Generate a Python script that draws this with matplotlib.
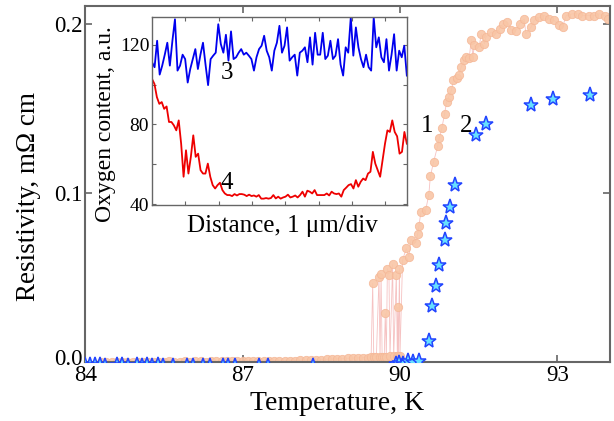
import numpy as np
import matplotlib.pyplot as plt
import matplotlib.transforms as mtransforms

plt.rcParams['font.family'] = ['Liberation Serif', 'DejaVu Serif']

# curve 1 (circles): temperature in K, resistivity in mOhm cm
T1 = [84.3, 84.4, 84.5, 84.6, 84.7, 84.8, 84.9, 85.0, 85.1, 85.2, 85.3, 85.4,
      85.5, 85.6, 85.7, 85.8, 85.9, 86.0, 86.1, 86.2, 86.3, 86.4, 86.5, 86.6,
      86.7, 86.8, 86.9, 87.0, 87.1, 87.2, 87.3, 87.4, 87.5, 87.6, 87.7, 87.8,
      87.9, 88.0, 88.1, 88.2, 88.3, 88.4, 88.5, 88.6, 88.7, 88.8, 88.9, 89.0,
      89.1, 89.2, 89.3, 89.4,
      89.45, 89.48, 89.50, 89.55, 89.60, 89.62, 89.64, 89.66, 89.70, 89.72,
      89.74, 89.76, 89.79, 89.81, 89.86, 89.88, 89.93, 89.95, 89.96, 89.97,
      89.99, 90.00,
      90.05, 90.12, 90.17, 90.21, 90.30, 90.34, 90.36, 90.40, 90.49, 90.55,
      90.58, 90.64, 90.72, 90.75, 90.80, 90.85, 90.89, 90.93, 90.98, 91.02,
      91.08, 91.12, 91.17, 91.23, 91.26, 91.32, 91.36, 91.39, 91.42, 91.51,
      91.55, 91.61, 91.64, 91.74, 91.83, 91.90, 91.96, 92.05, 92.12, 92.21,
      92.28, 92.37, 92.40, 92.50, 92.56, 92.66, 92.75, 92.85, 92.94, 93.04,
      93.10, 93.17, 93.29, 93.39, 93.48, 93.61, 93.70, 93.80, 93.91, 93.96]
R1 = [0.0002, 0.0003, 0.0002, 0.0003, 0.0002, 0.0003, 0.0003, 0.0002, 0.0003, 0.0003, 0.0002, 0.0003,
      0.0003, 0.0004, 0.0003, 0.0003, 0.0004, 0.0003, 0.0004, 0.0004, 0.0003, 0.0004, 0.0004, 0.0005,
      0.0004, 0.0005, 0.0004, 0.0005, 0.0005, 0.0006, 0.0005, 0.0006, 0.0006, 0.0007, 0.0007, 0.0008,
      0.0008, 0.0009, 0.0010, 0.0011, 0.0012, 0.0013, 0.0014, 0.0016, 0.0017, 0.0019, 0.0020, 0.0022,
      0.0023, 0.0025, 0.0026, 0.0027,
      0.0028, 0.0466, 0.0029, 0.0030, 0.0505, 0.0030, 0.0519, 0.0031, 0.0031, 0.0288,
      0.0032, 0.0554, 0.0515, 0.0033, 0.0578, 0.0033, 0.0515, 0.0034, 0.0324, 0.0034,
      0.0554, 0.0035,
      0.0604, 0.0673, 0.0623, 0.0726, 0.0706, 0.0761, 0.0805, 0.0889, 0.0899, 0.0992,
      0.1100, 0.1185, 0.1280, 0.1330, 0.1387, 0.1470, 0.1540, 0.1570, 0.1610, 0.1670,
      0.1680, 0.1700, 0.1750, 0.1790, 0.1810, 0.1800, 0.1910, 0.1810, 0.1876, 0.1866,
      0.1945, 0.1886, 0.1925, 0.1955, 0.1945, 0.1974, 0.2004, 0.2014, 0.1968, 0.1964,
      0.2004, 0.2033, 0.1945, 0.1984, 0.2024, 0.2043, 0.2053, 0.2033, 0.2024, 0.1994,
      0.1984, 0.2053, 0.2063, 0.2063, 0.2053, 0.2053, 0.2053, 0.2063, 0.2053, 0.2033]

# curve 2 (stars)
T2 = [84.00, 84.09, 84.18, 84.28, 84.37, 84.60, 84.70, 84.81, 84.98, 85.08,
      85.17, 85.27, 85.38, 85.48, 85.67, 85.93, 86.05, 86.24, 86.37, 86.62,
      86.73, 86.85, 87.32, 87.48, 88.34, 89.93, 89.99, 90.05, 90.15, 90.25,
      90.37, 90.55, 90.62, 90.69, 90.75, 90.85, 90.87, 90.95, 91.05, 91.45,
      91.64, 92.50, 92.92, 93.62]
R2 = [-0.0015, -0.0020, -0.0015, -0.0020, -0.0022, -0.0020, -0.0018, -0.0022, -0.0020, -0.0022,
      -0.0020, -0.0022, -0.0020, -0.0024, -0.0024, -0.0022, -0.0024, -0.0024, -0.0024, -0.0022,
      -0.0024, -0.0024, -0.0024, -0.0024, -0.0026, -0.0010, -0.0005, -0.0010, 0.0005, 0.0000,
      0.0008, 0.0126, 0.0331, 0.0450, 0.0574, 0.0726, 0.0821, 0.0919, 0.1050, 0.1343,
      0.1412, 0.1520, 0.1560, 0.1580]

# inset: oxygen content profiles, a.u.
oxy3 = [111.2, 108.7, 122.0, 105.0, 109.5, 115.0, 121.0, 109.5, 122.0, 132.8,
        107.0, 109.5, 115.0, 112.8, 101.0, 107.8, 112.8, 117.8, 107.8, 115.0,
        121.0, 110.0, 99.7, 112.8, 114.5, 116.0, 130.3, 120.3, 116.0, 125.0,
        112.0, 126.7, 112.8, 113.7, 116.0, 117.8, 115.0, 116.0, 114.5, 112.8,
        107.0, 113.7, 117.8, 119.5, 124.5, 117.0, 113.7, 107.0, 117.0, 121.0,
        129.5, 116.0, 119.5, 128.7, 112.0, 113.7, 115.0, 104.5, 116.0, 117.0,
        118.7, 111.2, 123.7, 110.0, 126.0, 115.0, 115.0, 126.0, 112.8, 114.5,
        122.0, 112.8, 114.5, 122.8, 110.0, 104.5, 118.7, 116.0, 133.7, 114.5,
        128.7, 118.7, 112.8, 108.7, 115.0, 108.7, 107.0, 133.7, 118.7, 123.7,
        113.7, 111.2, 122.8, 107.0, 115.0, 125.3, 107.0, 117.0, 113.7, 119.5,
        104.5]
oxy4 = [102.8, 100.3, 93.7, 90.3, 91.2, 87.8, 89.0, 81.2, 81.2, 79.5,
        77.0, 82.0, 70.3, 53.7, 67.0, 55.3, 63.7, 74.5, 63.7, 65.3,
        57.0, 55.3, 55.3, 60.3, 53.7, 49.5, 47.8, 49.5, 50.7, 47.0,
        45.3, 44.5, 44.5, 44.0, 45.0, 44.3, 45.0, 45.0, 44.7, 44.0,
        44.7, 44.0, 44.3, 43.7, 44.5, 42.7, 42.7, 43.0, 42.7, 43.0,
        44.5, 42.8, 43.7, 42.7, 43.3, 43.7, 44.7, 43.3, 43.7, 44.3,
        43.3, 44.5, 46.2, 43.7, 46.7, 46.2, 45.3, 47.0, 44.5, 44.5,
        44.5, 44.5, 45.3, 44.3, 46.2, 45.3, 45.0, 45.3, 43.7, 47.0,
        48.2, 49.5, 50.0, 47.8, 52.0, 48.7, 51.2, 52.8, 52.0, 55.3,
        56.2, 66.2, 60.3, 57.0, 53.7, 62.0, 70.3, 77.0, 76.2, 82.0,
        76.2, 74.0, 65.3, 66.2, 76.2, 70.3]
dist_max = 7.65  # um, evenly sampled profiles

spine_col = '#666666'

fig = plt.figure(figsize=(6.14, 4.21), dpi=100)
ax = fig.add_axes([0.139, 0.140, 0.854, 0.846])

ax.plot(T1, R1, '-', color='#f2a8a8', lw=0.6, alpha=0.7, zorder=1)
ax.plot(T1, R1, 'o', ms=6, mfc='#f9c6a6', mec='#f5b898', mew=0.6, alpha=0.9, zorder=2)
ax.plot(T2, R2, '*', ms=11, mfc='#66e0ff', mec='#2244ff', mew=1.1, zorder=3)

ax.text(90.52, 0.140, '1', fontsize=18, ha='center', va='center')
ax.text(91.27, 0.140, '2', fontsize=18, ha='center', va='center')

ax.set_xlim(84, 94)
ax.set_ylim(0, 0.211)
ax.set_xticks([84, 87, 90, 93])
ax.set_yticks([0.0, 0.1, 0.2])
ax.set_yticklabels(['0.0', '0.1', '0.2'])
ax.tick_params(direction='in', top=True, right=True, labelsize=16.5, length=5,
               width=1.2, color=spine_col)
ax.tick_params(axis='x', pad=2)
ax.tick_params(axis='y', pad=2)
for s in ax.spines.values():
    s.set_color(spine_col)
    s.set_linewidth(1.5)
ax.set_xlabel('Temperature, K', fontsize=20)
ax.set_ylabel('Resistivity, mΩ cm', fontsize=19.5)
ax.xaxis.set_label_coords(0.481, -0.082)
ax.yaxis.set_label_coords(-0.085, 0.466)

# lift the "0.0" label a little so it clears "84"
lift = mtransforms.ScaledTranslation(0, 4 / 72, fig.dpi_scale_trans)
lab0 = ax.get_yticklabels()[0]
lab0.set_transform(lab0.get_transform() + lift)

# inset
ins = fig.add_axes([0.2476, 0.513, 0.415, 0.447])
x3 = np.linspace(0, dist_max, len(oxy3))
x4 = np.linspace(0, dist_max, len(oxy4))
ins.plot(x3, oxy3, color='#0000ee', lw=1.3)
ins.plot(x4, oxy4, color='#ee0000', lw=1.3)
ins.text(2.25, 106, '3', fontsize=18, ha='center', va='center')
ins.text(2.25, 50.5, '4', fontsize=18, ha='center', va='center')
ins.set_xlim(0, dist_max)
ins.set_ylim(39.5, 134)
ins.set_xticks([1, 2, 3, 4, 5, 6, 7])
ins.set_xticklabels([])
ins.set_yticks([40, 80, 120])
ins.set_yticks([60, 100], minor=True)
ins.tick_params(which='both', direction='in', top=True, right=True, labelsize=14,
                length=3, width=0.8, color=spine_col, pad=2)
for s in ins.spines.values():
    s.set_color(spine_col)
    s.set_linewidth(1.0)
ins.set_xlabel('Distance, 1 μm/div', fontsize=18)
ins.set_ylabel('Oxygen content, a.u.', fontsize=17)
ins.xaxis.set_label_coords(0.51, -0.055)
ins.yaxis.set_label_coords(-0.141, 0.43)

fig.savefig('out.png', dpi=100)
